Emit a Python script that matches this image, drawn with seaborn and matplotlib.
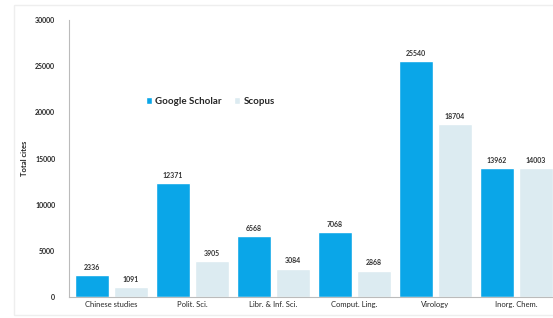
import pandas as pd
import matplotlib.pyplot as plt
import seaborn as sns
from matplotlib.patches import Rectangle

# ==========================
# Data
# ==========================
fields = ["Chinese studies", "Polit. Sci.", "Libr. & Inf. Sci.",
          "Comput. Ling.", "Virology", "Inorg. Chem."]
google_scholar = [2336, 12371, 6568, 7068, 25540, 13962]
scopus = [1091, 3905, 3084, 2868, 18704, 14003]
y_ticks = [0, 5000, 10000, 15000, 20000, 25000, 30000]

df = pd.DataFrame({
    "Field": fields * 2,
    "Cites": google_scholar + scopus,
    "Source": ["Google Scholar"] * len(fields) + ["Scopus"] * len(fields),
})

# ==========================
# Plot
# ==========================
sns.set_style("white")
plt.rcParams["font.family"] = ["Lato", "DejaVu Sans"]

fig = plt.figure(figsize=(5.53, 3.18), dpi=100)
ax = fig.add_axes([0.125, 0.066, 0.875, 0.871])

sns.barplot(
    data=df, x="Field", y="Cites", hue="Source",
    palette={"Google Scholar": "#0AA6E8", "Scopus": "#DCEBF1"},
    saturation=1, width=0.96, gap=0.12, ax=ax,
)

for container in ax.containers:
    ax.bar_label(container, fmt="%d", fontsize=5, fontweight="bold",
                 padding=3, color="#333333")

ax.set_ylim(0, 30000)
ax.set_xlim(-0.52, 5.45)
ax.set_yticks(y_ticks)
ax.set_yticklabels([str(t) for t in y_ticks], fontsize=5, fontweight="bold")
ax.tick_params(axis="x", labelsize=5.5, length=0, pad=3)
ax.tick_params(axis="y", length=2, width=0.6, color="#BBBBBB", pad=8)
ax.set_xlabel("")
ax.set_ylabel("Total cites", fontsize=5.5, fontweight="bold", labelpad=5)

for side in ["top", "right"]:
    ax.spines[side].set_visible(False)
ax.spines["left"].set_color("#BBBBBB")
ax.spines["bottom"].set_color("#BBBBBB")
ax.spines["left"].set_linewidth(0.8)
ax.spines["bottom"].set_linewidth(0.8)

ax.legend(loc="center left", bbox_to_anchor=(0.14, 0.705), ncol=2,
          frameon=False, handlelength=0.7, handleheight=0.7,
          handletextpad=0.3, columnspacing=1.2,
          prop={"weight": "bold", "size": 7})

# light outer frame
fig.patches.append(Rectangle((0.025, 0.01), 1.0, 0.975, transform=fig.transFigure,
                             fill=False, edgecolor="#EEEEEE", linewidth=1.0))

plt.savefig("out.png", dpi=100)
